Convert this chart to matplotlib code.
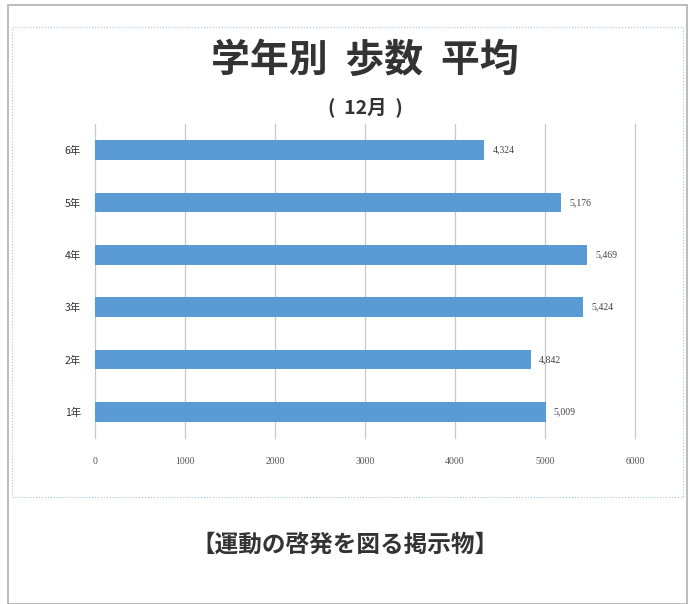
import matplotlib.pyplot as plt
from matplotlib.patches import Rectangle

plt.rcParams['font.family'] = ['Noto Sans CJK JP', 'DejaVu Sans']

grades = ['1年', '2年', '3年', '4年', '5年', '6年']
steps = [5009, 4842, 5424, 5469, 5176, 4324]
xticks = [0, 1000, 2000, 3000, 4000, 5000, 6000]

W, H = 691, 604
fig = plt.figure(figsize=(W / 100, H / 100), dpi=100)
fig.patch.set_facecolor('white')

# outer frame and dotted chart border
fig.patches.append(Rectangle((8 / W, 0), 679 / W, 1 - 5 / H, transform=fig.transFigure,
                             fill=False, edgecolor='#b0b0b0', linewidth=1.2))
fig.patches.append(Rectangle((12 / W, 1 - 497 / H), 671 / W, 470 / H, transform=fig.transFigure,
                             fill=False, edgecolor='#a8c4dc', linewidth=0.8, linestyle=':'))

ax = fig.add_axes([95 / W, 1 - 438 / H, 540 / W, 314 / H])
ax.barh(grades, steps, height=0.38, color='#5b9bd5', zorder=3)
ax.set_xlim(0, 6000)
ax.set_ylim(-0.5, 5.5)
ax.set_xticks(xticks)
ax.set_xticklabels([str(t) for t in xticks], family='Liberation Serif', fontsize=7, color='#555555')
ax.tick_params(axis='x', length=0, pad=14)
ax.tick_params(axis='y', length=0, pad=10, labelsize=7.5, labelcolor='#333333')
ax.grid(axis='x', color='#c8c8c8', linewidth=0.9, zorder=0)
for gl in ax.get_xgridlines():
    gl.set_clip_on(False)
for s in ax.spines.values():
    s.set_visible(False)

for i, v in enumerate(steps):
    ax.text(v + 90, i, f'{v:,}', va='center', ha='left', fontsize=7,
            family='Liberation Serif', color='#444444')

fig.text(365 / W, 1 - 60 / H, '学年別  歩数  平均', ha='center', va='center',
         fontsize=28, fontweight='bold', color='#333333')
fig.text(365 / W, 1 - 107 / H, '(  12月  )', ha='center', va='center',
         fontsize=14, fontweight='bold', color='#333333')
fig.text(345 / W, 1 - 545 / H, '【運動の啓発を図る掲示物】', ha='center', va='center',
         fontsize=17, fontweight='bold', color='#333333')

fig.savefig('out.png', dpi=100)
